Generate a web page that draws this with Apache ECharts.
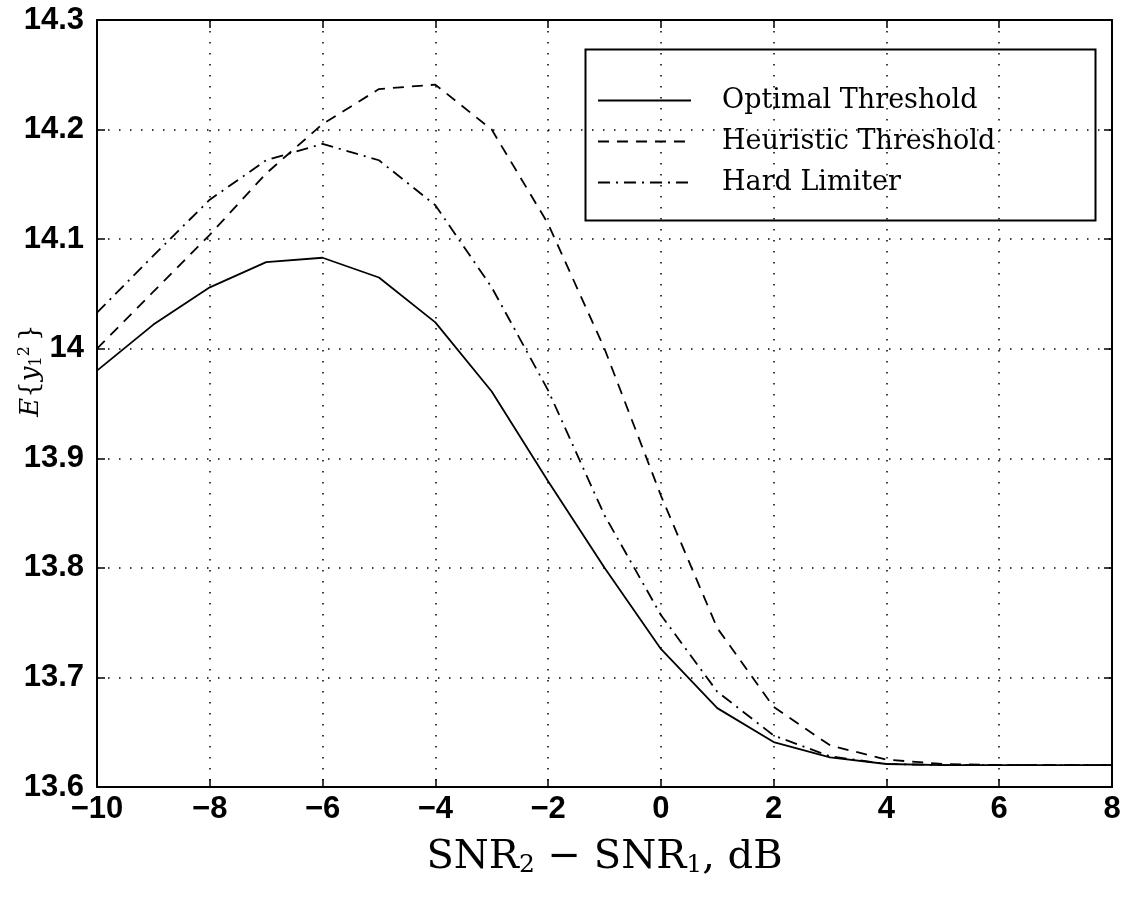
<!DOCTYPE html>
<html>
<head>
<meta charset="utf-8">
<script src="https://cdn.jsdelivr.net/npm/echarts@6/dist/echarts.min.js"></script>
<style>
  html, body { margin: 0; padding: 0; background: #fff; }
  #chart { width: 1122px; height: 903px; }
</style>
</head>
<body>
<div id="chart"></div>
<script>
// SNR difference (dB)
const snrDiff = [-10, -9, -8, -7, -6, -5, -4, -3, -2, -1, 0, 1, 2, 3, 4, 5, 6, 7, 8];

// E{y1^2} for each thresholding scheme
const optimalThreshold = [13.980, 14.022, 14.056, 14.079, 14.083, 14.065, 14.024, 13.961, 13.879, 13.800,
                          13.726, 13.672, 13.641, 13.627, 13.621, 13.620, 13.620, 13.620, 13.620];
const heuristicThreshold = [14.000, 14.052, 14.104, 14.160, 14.205, 14.237, 14.241, 14.200, 14.114, 14.000,
                            13.866, 13.745, 13.673, 13.638, 13.625, 13.621, 13.620, 13.620, 13.620];
const hardLimiter = [14.033, 14.085, 14.136, 14.172, 14.187, 14.172, 14.131, 14.056, 13.962, 13.848,
                     13.757, 13.687, 13.647, 13.628, 13.621, 13.620, 13.620, 13.620, 13.620];

const seriesNames = ['Optimal Threshold', 'Heuristic Threshold', 'Hard Limiter'];
const xTicks = { min: -10, max: 8, interval: 2 };
const yTicks = { min: 13.6, max: 14.3, interval: 0.1 };

const pairs = (ys) => snrDiff.map((x, i) => [x, ys[i]]);
const minus = (v) => String(v).replace('-', '\u2212');

const tickFont = { fontFamily: 'Liberation Sans', fontWeight: 'bold', fontSize: 31, color: '#000' };
const serif = 'DejaVu Serif';
const gridDots = { show: true, lineStyle: { color: '#000', width: 1.5, type: [1.5, 9.5] } };
const boxLine = { show: true, onZero: false, lineStyle: { color: '#000', width: 2 } };
const inTick = { show: true, inside: true, length: 8, lineStyle: { color: '#000', width: 1.5 } };

const chart = echarts.init(document.getElementById('chart'));
chart.setOption({
  backgroundColor: '#fff',
  animation: false,
  grid: { left: 97, right: 10, top: 20, bottom: 116, outerBoundsMode: 'none' },
  xAxis: [
    {
      type: 'value', position: 'bottom', ...xTicks,
      axisLine: boxLine, axisTick: inTick, splitLine: gridDots,
      axisLabel: { ...tickFont, margin: 7, formatter: minus },
      name: '{n|SNR}{s|2}{n| \u2212 SNR}{s|1}{n|, dB}',
      nameLocation: 'middle', nameGap: 50, nameMoveOverlap: false,
      nameTextStyle: {
        rich: {
          n: { fontFamily: serif, fontSize: 40, color: '#000' },
          s: { fontFamily: serif, fontSize: 25, color: '#000', padding: [16, 0, 0, 0] }
        }
      }
    },
    {
      type: 'value', position: 'top', ...xTicks,
      axisLine: boxLine, axisTick: inTick, splitLine: { show: false },
      axisLabel: { show: false }
    }
  ],
  yAxis: [
    {
      type: 'value', position: 'left', ...yTicks,
      axisLine: boxLine, axisTick: inTick, splitLine: gridDots,
      axisLabel: { ...tickFont, margin: 13, formatter: (v) => String(+v.toFixed(1)) },
      name: '{i|E}{n|\u007B}{i|y}{s|1}{p|2}{n|\u2009}}',
      nameLocation: 'middle', nameGap: 52, nameRotate: 90, nameMoveOverlap: false,
      nameTextStyle: {
        fontFamily: serif, fontSize: 26, color: '#000',
        padding: [0, 0, 0, 66],
        rich: {
          i: { fontFamily: serif, fontStyle: 'italic', fontSize: 26, color: '#000' },
          n: { fontFamily: serif, fontSize: 26, color: '#000' },
          s: { fontFamily: serif, fontSize: 16, color: '#000', padding: [12, 0, 0, 0] },
          p: { fontFamily: serif, fontSize: 16, color: '#000', padding: [0, 0, 12, 0] }
        }
      }
    },
    {
      type: 'value', position: 'right', ...yTicks,
      axisLine: boxLine, axisTick: inTick, splitLine: { show: false },
      axisLabel: { show: false }
    }
  ],
  legend: {
    orient: 'vertical', left: 592, top: 82,
    itemWidth: 93, itemHeight: 20, itemGap: 14,
    data: seriesNames,
    itemStyle: { opacity: 0 },
    textStyle: { fontFamily: serif, fontSize: 27, color: '#000', padding: [0, 0, 0, 26] },
    inactiveColor: '#000'
  },
  graphic: [{
    type: 'rect', left: 583, top: 47, z: 100,
    shape: { width: 510, height: 171 },
    style: { fill: 'none', stroke: '#000', lineWidth: 2 }
  }],
  series: [
    {
      name: seriesNames[0], type: 'line', data: pairs(optimalThreshold),
      symbol: 'none', color: '#000',
      lineStyle: { color: '#000', width: 1.8, type: 'solid' }
    },
    {
      name: seriesNames[1], type: 'line', data: pairs(heuristicThreshold),
      symbol: 'none', color: '#000',
      lineStyle: { color: '#000', width: 1.8, type: [11, 8] }
    },
    {
      name: seriesNames[2], type: 'line', data: pairs(hardLimiter),
      symbol: 'none', color: '#000',
      lineStyle: { color: '#000', width: 1.8, type: [12, 6, 2, 6] }
    }
  ]
});
</script>
</body>
</html>
